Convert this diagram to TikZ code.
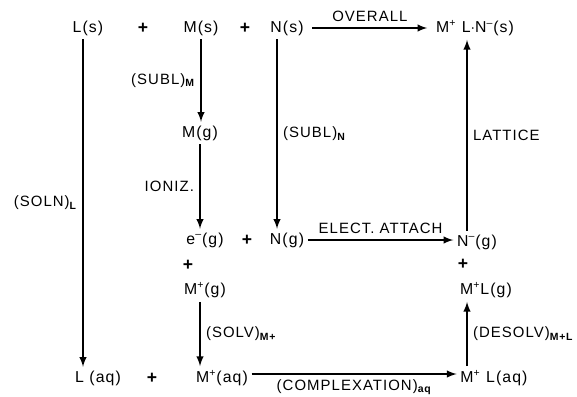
\documentclass[tikz,border=0pt]{standalone}
\usepackage{fontspec}
\setmainfont{Liberation Sans}[LetterSpace=7]
\newcommand{\lowidx}[1]{\textsubscript{\bfseries #1}}
\newcommand{\chg}[1]{\textsuperscript{#1}}

\begin{document}
\begin{tikzpicture}[x=0.02cm, y=-0.02cm,
        every node/.style={font=\fontsize{9}{10}\selectfont},
        sp/.style={inner sep=2pt},
        pl/.style={inner sep=1pt, font=\fontsize{10}{10}\selectfont\bfseries},
        arr/.style={-latex, line width=0.9pt},
        lbl/.style={font=\fontsize{8.5}{10}\selectfont, inner sep=3pt},
      ]
      \useasboundingbox (0,0) rectangle (577,396);

      % top row
      \node[sp] (Ls) at (88,28) {L(s)};
      \node[pl] (p1) at (143,28) {+};
      \node[sp] (Ms) at (201,28) {M(s)};
      \node[pl] (p2) at (245,28) {+};
      \node[sp] (Ns) at (287,28) {N(s)};
      \node[sp] (Pr) at (475,28) {M\chg{+} L$\cdot$N\chg{--}(s)};

      % gas phase
      \node[sp] (Mg) at (200,133) {M(g)};
      \node[sp] (em) at (205,240) {e\chg{--}(g)};
      \node[pl] (p3) at (247,240) {+};
      \node[sp] (Ng) at (287,240) {N(g)};
      \node[sp] (Nm) at (477,242) {N\chg{--}(g)};
      \node[pl] (p4) at (188,265) {+};
      \node[pl] (p5) at (463,264) {+};
      \node[sp] (Mpg) at (205,290) {M\chg{+}(g)};
      \node[sp] (MLg) at (486,290) {M\chg{+}L(g)};

      % solution
      \node[sp] (Laq) at (98,378) {L (aq)};
      \node[pl] (p6) at (152,378) {+};
      \node[sp] (Maq) at (222,378) {M\chg{+}(aq)};
      \node[sp] (MLaq) at (494,378) {M\chg{+} L(aq)};

      % horizontal steps
      \draw[arr] ([xshift=0.1cm]Ns.east) -- node[lbl, above] {OVERALL} ([xshift=-0.1cm]Ns.east -| Pr.west);
      \draw[arr] (Ng.east) -- node[lbl, above] {ELECT. ATTACH} (Ng.east -| Nm.west);
      \draw[arr] ([yshift=0.08cm]Maq.east) -- node[lbl, below] {(COMPLEXATION)\lowidx{aq}} ([yshift=0.08cm]Maq.east -| MLaq.west);

      % vertical steps
      \draw[arr] ([xshift=-0.1cm]Ls.south) -- node[lbl, left] {(SOLN)\lowidx{L}} ([xshift=-0.1cm]Ls.south |- Laq.north);
      \draw[arr] (Ms.south) -- node[lbl, left] {(SUBL)\lowidx{M}} (Ms.south |- Mg.north);
      \draw[arr] (Mg.south) -- node[lbl, left] {IONIZ.} (Mg.south |- em.north);
      \draw[arr] ([xshift=-0.2cm]Ns.south) -- node[lbl, right] {(SUBL)\lowidx{N}} ([xshift=-0.2cm]Ns.south |- Ng.north);
      \draw[arr] ([xshift=-0.1cm]Mpg.south) -- node[lbl, right] {(SOLV)\lowidx{M+}} ([xshift=-0.1cm]Mpg.south |- Maq.north);
      \draw[arr] ([xshift=-0.2cm]Nm.north) -- node[lbl, right, pos=0.5] {LATTICE} ([xshift=-0.2cm]Nm.north |- Pr.south);
      \draw[arr] ([xshift=-0.54cm]MLaq.north) -- node[lbl, right] {(DESOLV)\lowidx{M+L}} ([xshift=-0.54cm]MLaq.north |- MLg.south);
    \end{tikzpicture}
\end{document}
